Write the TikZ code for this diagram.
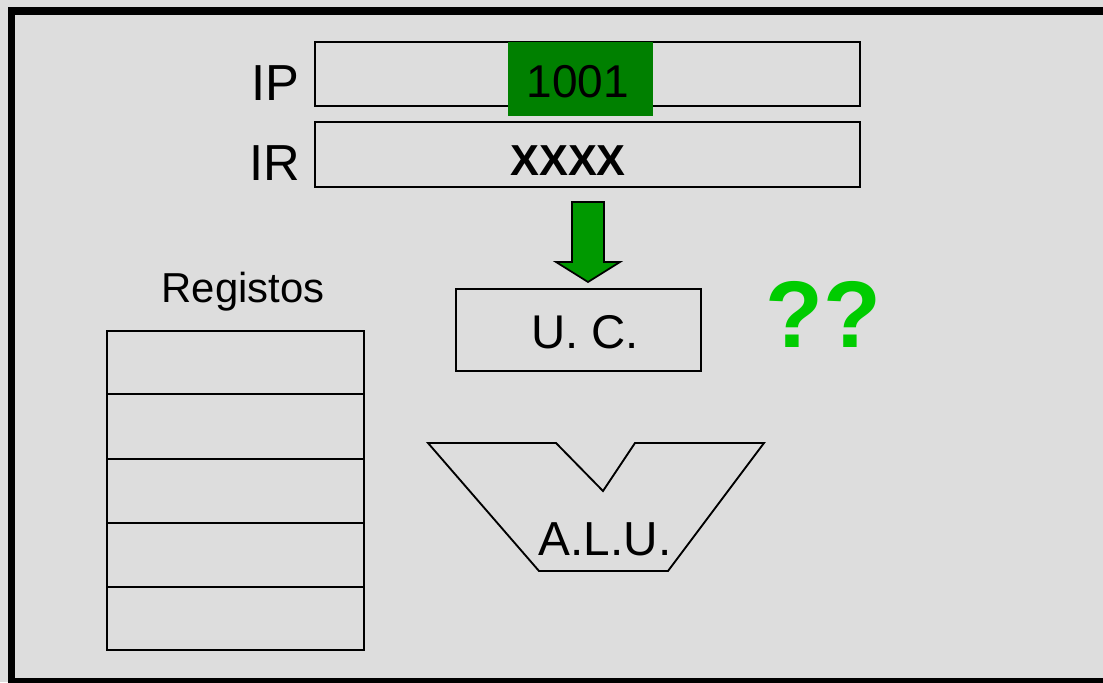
\documentclass[tikz,border=0pt]{standalone}
\usepackage{fontspec}
\setmainfont{Liberation Sans}
\definecolor{bg}{HTML}{DDDDDD}
\definecolor{ipgreen}{HTML}{008000}
\definecolor{arrowgreen}{HTML}{009900}
\definecolor{qgreen}{HTML}{00CC00}
\newcommand{\fs}[1]{\fontsize{#1}{#1}\selectfont}
\begin{document}
\begin{tikzpicture}[x=0.75pt,y=-0.75pt,
  box/.style={draw=black,line width=1.4pt},
  lbl/.style={inner sep=0pt,anchor=base}]
\useasboundingbox (0,0) rectangle (1103,682);
\fill[bg] (0,0) rectangle (1103,682);
% frame
\draw[line width=5.4pt] (11.5,11) rectangle (1115,682);
% IP register
\draw[box] (315,42) rectangle (860,106);
\fill[ipgreen] (508,42) rectangle (653,116);
\node[lbl] (ipval) at (578,97) {\fs{34.5pt}1001};
\node[lbl,anchor=base east] (ip) at (300,100) {\fs{38pt}IP};
% IR register
\draw[box] (315,122) rectangle (860,187);
\node[lbl] (irval) at (568,175) {\fs{32.5pt}\bfseries XXXX};
\node[lbl,anchor=base east] (ir) at (300,180) {\fs{38pt}IR};
% block arrow
\draw[fill=arrowgreen,line width=1.3pt,line join=miter]
  (572,202) -- (604,202) -- (604,262) -- (620,262) -- (588,282) -- (556,262) -- (572,262) -- cycle;
% UC
\draw[box] (456,289) rectangle (701,371);
\node[lbl] (uc) at (585,348) {\fs{35.5pt}U. C.};
% ??
\node[lbl,text=qgreen] (qq) at (823,347) {\fs{71pt}\bfseries ??};
% ALU
\draw[box,line join=miter] (428,443) -- (556,443) -- (603,491) -- (635,443) -- (764,443) -- (668,571) -- (539,571) -- cycle;
\node[lbl] (alu) at (605,555) {\fs{35.8pt}A.L.U.};
% registers
\node[lbl] (reglbl) at (243,302) {\fs{31.4pt}Registos};
\draw[box] (107,331) rectangle (364,650);
\foreach \yy in {394,459,523,587} \draw[box] (107,\yy) -- (364,\yy);
\end{tikzpicture}
\end{document}
